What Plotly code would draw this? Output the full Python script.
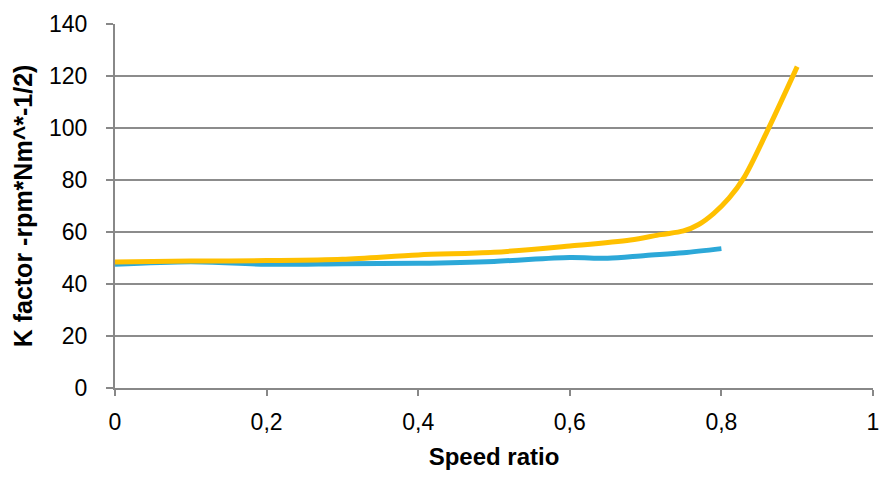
import plotly.graph_objects as go

# Speed ratio samples and K factor values for the two curves
speed_ratio_a = [0, 0.1, 0.2, 0.3, 0.4, 0.5, 0.6, 0.68, 0.72, 0.75, 0.77, 0.79, 0.81, 0.83, 0.86, 0.9]
k_factor_a = [48.5, 48.8, 49.0, 49.5, 51.2, 52.2, 54.6, 56.9, 59.0, 60.4, 62.9, 67.2, 73.0, 81.0, 98.5, 123.6]

speed_ratio_b = [0, 0.1, 0.2, 0.3, 0.4, 0.5, 0.6, 0.65, 0.7, 0.75, 0.8]
k_factor_b = [47.6, 48.6, 47.6, 47.8, 48.0, 48.7, 50.2, 49.9, 51.0, 52.0, 53.6]

x_ticks = [0, 0.2, 0.4, 0.6, 0.8, 1]
x_tick_text = ["0", "0,2", "0,4", "0,6", "0,8", "1"]
y_ticks = [0, 20, 40, 60, 80, 100, 120, 140]

fig = go.Figure()
fig.add_trace(go.Scatter(
    x=speed_ratio_b, y=k_factor_b, mode="lines",
    line=dict(color="#2CA8D8", width=5, shape="spline", smoothing=0.9),
    showlegend=False,
))
fig.add_trace(go.Scatter(
    x=speed_ratio_a, y=k_factor_a, mode="lines",
    line=dict(color="#FFC000", width=5, shape="spline", smoothing=0.9),
    showlegend=False,
))

family = "Liberation Sans, Arial, sans-serif"
tick_font = dict(family=family, size=23, color="#000000")

fig.update_layout(
    width=885, height=477,
    margin=dict(l=115, r=12, t=24, b=89),
    paper_bgcolor="white", plot_bgcolor="white",
    xaxis=dict(
        range=[0, 1], tickvals=x_ticks, ticktext=x_tick_text,
        showgrid=False, zeroline=False, automargin=False,
        showline=True, linecolor="#888888", linewidth=2,
        ticks="outside", ticklen=6, tickcolor="#888888", tickwidth=1.5,
        tickfont=tick_font, ticklabelstandoff=6,
        title=dict(text="Speed ratio",
                   font=dict(family=family, size=24, color="#000000", weight="bold"),
                   standoff=15),
    ),
    yaxis=dict(
        range=[0, 140], tickvals=y_ticks,
        showgrid=True, gridcolor="#8C8C8C", gridwidth=1.5,
        zeroline=False, automargin=False,
        showline=True, linecolor="#888888", linewidth=2,
        ticks="outside", ticklen=7, tickcolor="#888888", tickwidth=1.5,
        tickfont=tick_font, ticklabelstandoff=14,
        title=dict(text="K factor -rpm*Nm^*-1/2)",
                   font=dict(family=family, size=25, color="#000000", weight="bold"),
                   standoff=9),
    ),
)

fig.write_html("out.html")
